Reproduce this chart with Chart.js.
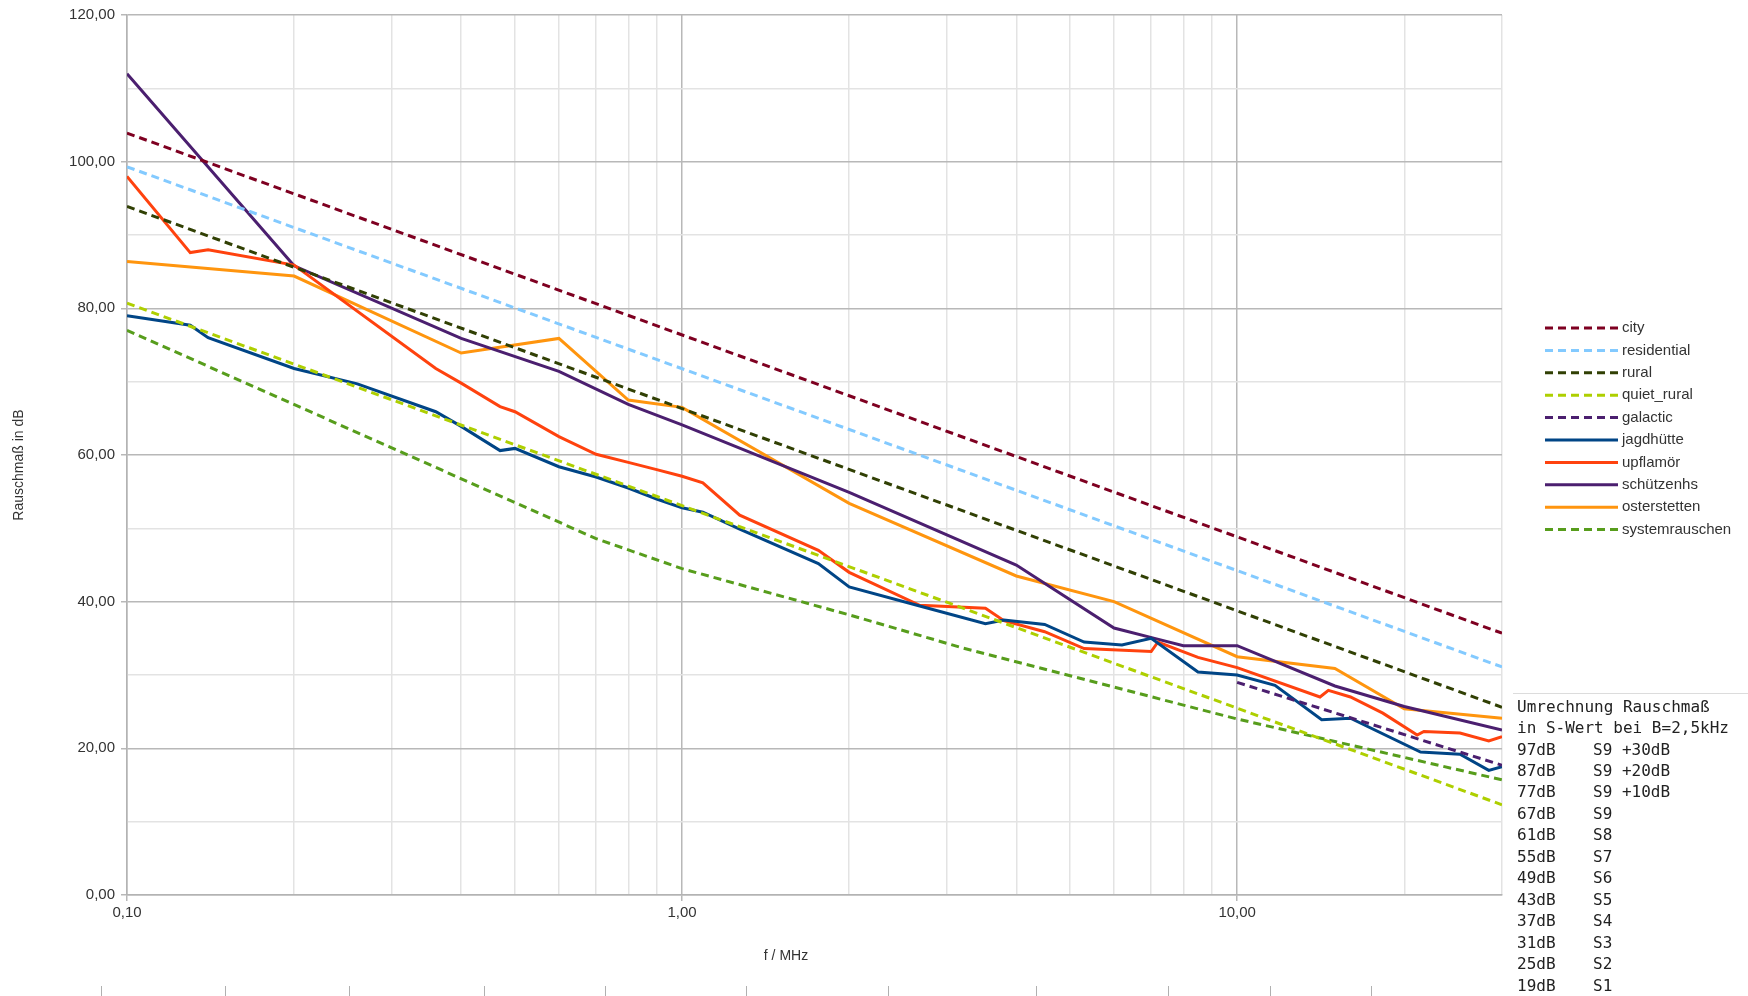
<!DOCTYPE html>
<html>
<head>
<meta charset="utf-8">
<title>Rauschmaß</title>
<script src="https://cdn.jsdelivr.net/npm/chart.js@4.4.0/dist/chart.umd.min.js"></script>
<style>
  body { margin: 0; background: #fff; }
  #wrap { width: 1748px; height: 996px; position: relative; }
</style>
</head>
<body>
<div id="wrap"><canvas id="myChart"></canvas></div>
<script>
// reference noise lines (straight in log f)
const cityFreq = [0.1, 30];
const cityDb = [103.9, 35.7];
const residentialFreq = [0.1, 30];
const residentialDb = [99.3, 31.1];
const ruralFreq = [0.1, 30];
const ruralDb = [93.9, 25.6];
const quietRuralFreq = [0.1, 30];
const quietRuralDb = [80.7, 12.3];
const galacticFreq = [10, 30];
const galacticDb = [29.0, 17.7];

// measured locations
const jagdFreq = [0.1, 0.13, 0.14, 0.2, 0.26, 0.36, 0.4, 0.47, 0.5, 0.6, 0.7, 0.8, 0.9, 1.0, 1.09, 1.27, 1.76, 2.0, 2.68, 3.52, 3.8, 4.5, 5.3, 6.2, 7.0, 8.5, 10, 11.7, 14.2, 16, 21.4, 25.2, 28.4, 30];
const jagdDb = [79.0, 77.7, 76.0, 71.8, 69.7, 65.9, 63.9, 60.6, 60.9, 58.4, 57.0, 55.5, 54.0, 52.8, 52.2, 49.9, 45.2, 42.0, 39.4, 37.0, 37.5, 36.9, 34.5, 34.1, 35.0, 30.4, 30.0, 28.6, 23.9, 24.1, 19.5, 19.2, 17.0, 17.5];

const upflaFreq = [0.1, 0.13, 0.14, 0.2, 0.36, 0.4, 0.47, 0.5, 0.6, 0.7, 0.8, 0.9, 1.0, 1.09, 1.27, 1.76, 2.0, 2.68, 3.52, 3.8, 4.5, 5.3, 7.0, 7.2, 8.5, 10, 14.1, 14.6, 16, 18.3, 21.1, 21.7, 25.2, 28.4, 30];
const upflaDb = [98.0, 87.6, 88.0, 85.9, 71.8, 69.8, 66.6, 65.9, 62.5, 60.1, 59.0, 58.0, 57.1, 56.2, 51.8, 47.0, 44.0, 39.5, 39.1, 37.4, 35.9, 33.6, 33.2, 34.5, 32.4, 31.0, 27.0, 27.9, 27.0, 24.8, 21.8, 22.3, 22.1, 21.0, 21.6];

const schuetzFreq = [0.1, 0.2, 0.4, 0.6, 0.8, 1.0, 2.0, 4.0, 6.0, 7.1, 8.0, 10, 15, 20, 30];
const schuetzDb = [112.0, 85.8, 75.9, 71.4, 66.9, 64.1, 54.9, 45.0, 36.4, 35.0, 34.0, 34.0, 28.5, 25.7, 22.5];

const osterFreq = [0.1, 0.2, 0.4, 0.6, 0.8, 1.0, 2.0, 4.0, 6.0, 10, 15, 20, 30];
const osterDb = [86.4, 84.4, 73.9, 75.9, 67.5, 66.5, 53.4, 43.5, 40.0, 32.5, 30.9, 25.4, 24.1];

const systemFreq = [0.1, 0.7, 1.0, 2.0, 3.2, 10, 30];
const systemDb = [77.0, 48.6, 44.5, 38.2, 33.7, 24.0, 15.7];

// tick labels
const xTickValues = [0.1, 1, 10];
const xTickLabels = ["0,10", "1,00", "10,00"];
const yTickValues = [0, 20, 40, 60, 80, 100, 120];
const yTickLabels = ["0,00", "20,00", "40,00", "60,00", "80,00", "100,00", "120,00"];

// S-Wert table on the right
const sHead = ["Umrechnung Rauschmaß", "in S-Wert bei B=2,5kHz"];
const sDb = ["97dB", "87dB", "77dB", "67dB", "61dB", "55dB", "49dB", "43dB", "37dB", "31dB", "25dB", "19dB"];
const sValue = ["S9 +30dB", "S9 +20dB", "S9 +10dB", "S9", "S8", "S7", "S6", "S5", "S4", "S3", "S2", "S1"];

function pts(fs, ds) {
  let out = [];
  for (let i = 0; i < fs.length; i++) out.push({ x: fs[i], y: ds[i] });
  return out;
}

function line(label, fs, ds, color, dashed) {
  return {
    label: label,
    data: pts(fs, ds),
    borderColor: color,
    backgroundColor: color,
    borderWidth: 3,
    borderDash: dashed ? [8, 5] : [],
    borderCapStyle: "butt",
    pointRadius: 0,
    tension: 0,
    fill: false,
  };
}

const datasets = [
  line("city", cityFreq, cityDb, "#7e0021", true),
  line("residential", residentialFreq, residentialDb, "#83caff", true),
  line("rural", ruralFreq, ruralDb, "#314004", true),
  line("quiet_rural", quietRuralFreq, quietRuralDb, "#aecf00", true),
  line("galactic", galacticFreq, galacticDb, "#4b1f6f", true),
  line("jagdhütte", jagdFreq, jagdDb, "#004586", false),
  line("upflamör", upflaFreq, upflaDb, "#ff420e", false),
  line("schützenhs", schuetzFreq, schuetzDb, "#4b1f6f", false),
  line("osterstetten", osterFreq, osterDb, "#ff950e", false),
  line("systemrauschen", systemFreq, systemDb, "#579d1c", true),
];

// grid positions for log axis: 0.1..0.9, 1..9, 10..30
let xGrid = [];
for (let dec of [0.1, 1, 10]) {
  for (let m = 1; m <= 9; m++) {
    let v = +(m * dec).toFixed(3);
    if (v <= 30) xGrid.push(v);
  }
}

function isMajorX(v) {
  return xTickValues.some((t) => Math.abs(t - v) < 1e-6);
}

const FONT = "'Liberation Sans', Arial, sans-serif";

// legend, axis titles and the S-table are drawn by hand
const extras = {
  id: "extras",
  afterDraw(chart) {
    const ctx = chart.ctx;
    ctx.save();

    // axis titles
    ctx.fillStyle = "#333";
    ctx.font = "14px " + FONT;
    ctx.textAlign = "center";
    ctx.textBaseline = "middle";
    ctx.fillText("f / MHz", 786, 956);
    ctx.save();
    ctx.translate(19, 465);
    ctx.rotate(-Math.PI / 2);
    ctx.fillText("Rauschmaß in dB", 0, 0);
    ctx.restore();

    // legend
    ctx.font = "15px " + FONT;
    ctx.textAlign = "left";
    for (let i = 0; i < datasets.length; i++) {
      let ds = datasets[i];
      let y = 328 + i * 22.4;
      ctx.beginPath();
      ctx.strokeStyle = ds.borderColor;
      ctx.lineWidth = 3;
      ctx.setLineDash(ds.borderDash);
      ctx.moveTo(1545, y);
      ctx.lineTo(1618, y);
      ctx.stroke();
      ctx.setLineDash([]);
      ctx.fillStyle = "#333";
      ctx.fillText(ds.label, 1622, y);
    }

    // S-Wert table
    ctx.strokeStyle = "#dcdcdc";
    ctx.lineWidth = 1;
    ctx.beginPath();
    ctx.moveTo(1513, 693.5);
    ctx.lineTo(1748, 693.5);
    ctx.stroke();
    ctx.fillStyle = "#222";
    ctx.font = "16px 'DejaVu Sans Mono', 'Liberation Mono', monospace";
    let rowY = 707.5;
    for (let h of sHead) {
      ctx.fillText(h, 1517, rowY);
      rowY += 21.45;
    }
    for (let i = 0; i < sDb.length; i++) {
      ctx.fillText(sDb[i], 1517, rowY);
      ctx.fillText(sValue[i], 1593, rowY);
      rowY += 21.45;
    }

    // little marks at the bottom edge (sheet columns)
    ctx.strokeStyle = "#b0b0b0";
    ctx.beginPath();
    for (let x of [101, 225, 349, 484, 605, 746, 888, 1036, 1168, 1270, 1371]) {
      ctx.moveTo(x + 0.5, 986);
      ctx.lineTo(x + 0.5, 996);
    }
    ctx.stroke();
    ctx.restore();
  },
};

const config = {
  type: "line",
  data: { datasets: datasets },
  options: {
    responsive: true,
    maintainAspectRatio: false,
    animation: false,
    layout: { padding: { top: 15, right: 246, bottom: 0, left: 0 } },
    plugins: {
      legend: { display: false },
      tooltip: { enabled: false },
    },
    scales: {
      x: {
        type: "logarithmic",
        min: 0.1,
        max: 30,
        afterBuildTicks: (scale) => {
          scale.ticks = xGrid.map((v) => ({ value: v }));
        },
        afterFit: (scale) => {
          scale.height = 101;
        },
        ticks: {
          autoSkip: false,
          maxRotation: 0,
          padding: 3,
          color: "#333",
          font: { family: FONT, size: 15 },
          callback: (v) => {
            let i = xTickValues.findIndex((t) => Math.abs(t - v) < 1e-6);
            return i >= 0 ? xTickLabels[i] : "";
          },
        },
        grid: {
          color: (c) => (c.tick && isMajorX(c.tick.value) ? "#b8b8b8" : "#e3e3e3"),
          lineWidth: 1.5,
          tickLength: 6,
          tickColor: (c) => (c.tick && isMajorX(c.tick.value) ? "#b8b8b8" : "rgba(0,0,0,0)"),
        },
        border: { color: "#b3b3b3", width: 1.5 },
      },
      y: {
        min: 0,
        max: 120,
        afterFit: (scale) => {
          scale.width = 127;
        },
        ticks: {
          stepSize: 10,
          padding: 6,
          color: "#333",
          font: { family: FONT, size: 15 },
          callback: (v) => {
            let i = yTickValues.indexOf(v);
            return i >= 0 ? yTickLabels[i] : "";
          },
        },
        grid: {
          color: (c) => (c.tick && c.tick.value % 20 === 0 ? "#b8b8b8" : "#e3e3e3"),
          lineWidth: 1.5,
          tickLength: 6,
          tickColor: (c) => (c.tick && c.tick.value % 20 === 0 ? "#b8b8b8" : "rgba(0,0,0,0)"),
        },
        border: { color: "#b3b3b3", width: 1.5 },
      },
    },
  },
  plugins: [extras],
};

const myChart = new Chart(document.getElementById("myChart"), config);
</script>
</body>
</html>
